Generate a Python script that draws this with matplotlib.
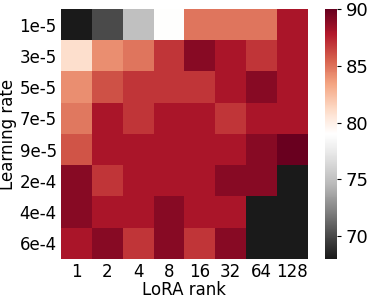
import numpy as np
import matplotlib
matplotlib.use("Agg")
import matplotlib.pyplot as plt

ranks = ["1", "2", "4", "8", "16", "32", "64", "128"]
lrs = ["1e-5", "3e-5", "5e-5", "7e-5", "9e-5", "2e-4", "4e-4", "6e-4"]
acc = [
    [68.0, 70.1, 75.0, 79.0, 84.9, 84.9, 84.9, 88.0],
    [80.9, 84.1, 84.9, 86.9, 89.0, 88.0, 86.9, 88.0],
    [84.1, 86.0, 86.9, 86.9, 86.9, 88.0, 89.0, 88.0],
    [84.8, 88.0, 86.9, 88.0, 88.0, 86.9, 88.0, 88.0],
    [85.9, 88.0, 88.0, 88.0, 88.0, 88.0, 89.0, 89.9],
    [89.0, 86.9, 88.0, 88.0, 88.0, 89.0, 89.0, 68.0],
    [89.0, 88.0, 88.0, 89.0, 88.0, 88.0, 68.0, 68.0],
    [88.0, 89.0, 86.9, 89.0, 86.9, 89.0, 68.0, 68.0],
]

plt.rcParams['font.family'] = ['DejaVu Sans']
fig = plt.figure(figsize=(3.73, 2.99), dpi=100)
ax = fig.add_axes([0.1635, 0.1338, 0.662, 0.836])
cax = fig.add_axes([0.871, 0.1338, 0.032, 0.836])

data = np.array(acc)
im = ax.imshow(data, cmap="RdGy_r", vmin=68, vmax=90, aspect="auto",
               interpolation="nearest")
ax.set_xticks(range(len(ranks)))
ax.set_xticklabels(ranks, fontsize=12)
ax.set_yticks(range(len(lrs)))
ax.set_yticklabels(lrs, fontsize=12)
ax.tick_params(length=0, pad=3)
for s in ax.spines.values():
    s.set_visible(False)
ax.set_xlabel("LoRA rank", fontsize=12, labelpad=0)
ax.set_ylabel("Learning rate", fontsize=12, labelpad=2)

cb = fig.colorbar(im, cax=cax, ticks=[70, 75, 80, 85, 90])
cb.ax.tick_params(labelsize=13, length=3)
cb.outline.set_visible(False)

fig.savefig("out.png", dpi=100)
